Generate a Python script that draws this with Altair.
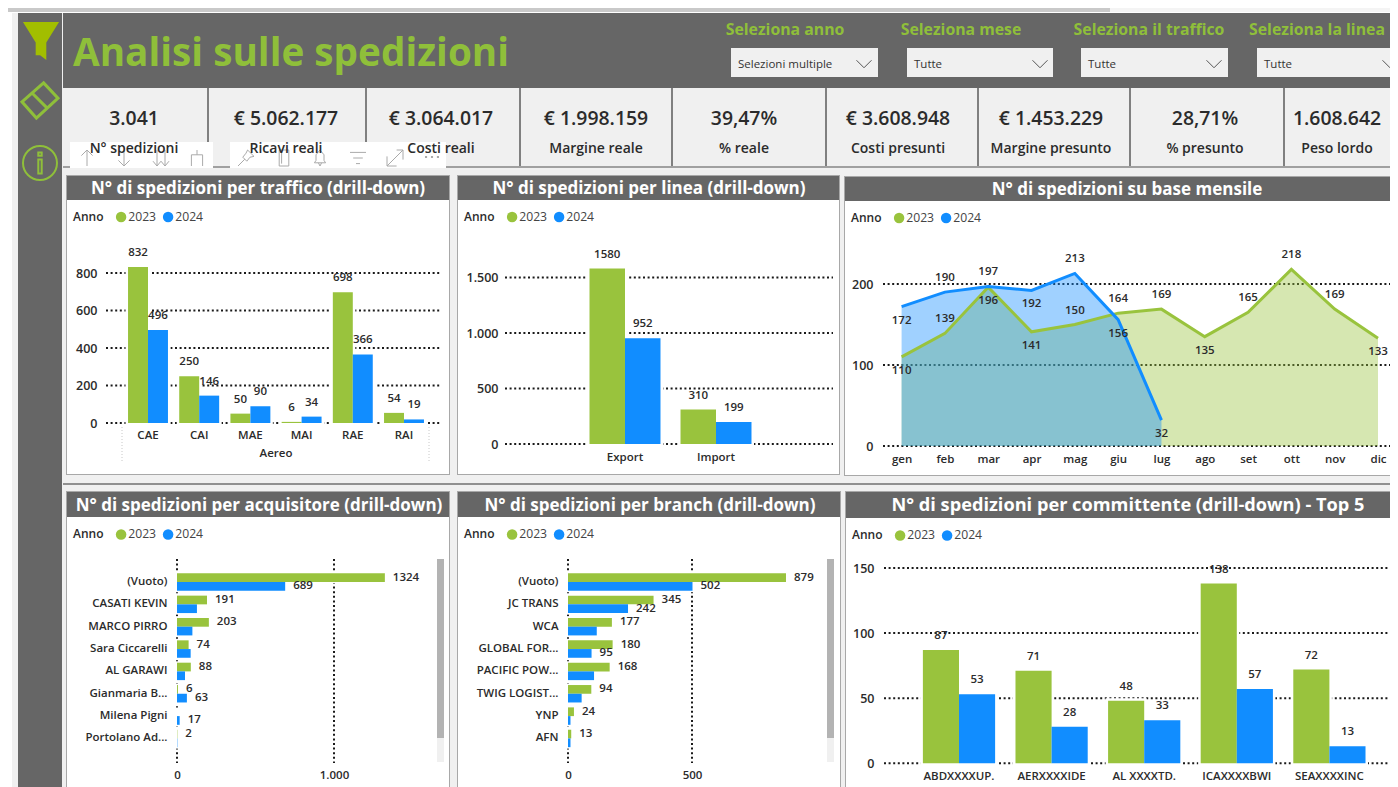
import altair as alt
import pandas as pd

# ---------- data ----------
ANNI = ["2023", "2024"]
COLORS = ["#99C33D", "#118DFF"]

traffico = ["CAE", "CAI", "MAE", "MAI", "RAE", "RAI"]
traffico_23 = [832, 250, 50, 6, 698, 54]
traffico_24 = [496, 146, 90, 34, 366, 19]

linea = ["Export", "Import"]
linea_23 = [1580, 310]
linea_24 = [952, 199]

mesi = ["gen", "feb", "mar", "apr", "mag", "giu", "lug", "ago", "set", "ott", "nov", "dic"]
mesi_23 = [110, 139, 196, 141, 150, 164, 169, 135, 165, 218, 169, 133]
mesi_24 = [172, 190, 197, 192, 213, 156, 32]
sotto_23 = ["gen", "mar", "apr", "ago", "dic"]
sotto_24 = ["gen", "apr", "giu", "lug"]

acquirenti = ["(Vuoto)", "CASATI KEVIN", "MARCO PIRRO", "Sara Ciccarelli", "AL GARAWI",
              "Gianmaria B...", "Milena Pigni", "Portolano Ad..."]
acq_23 = [1324, 191, 203, 74, 88, 6, 0, 2]
acq_24 = [689, 127, 98, 87, 51, 63, 17, 2]
acq_lab_23 = [1324, 191, 203, 74, 88, 6, None, 2]
acq_lab_24 = [689, None, None, None, None, 63, 17, None]

branch = ["(Vuoto)", "JC TRANS", "WCA", "GLOBAL FOR...", "PACIFIC POW...", "TWIG LOGIST...", "YNP", "AFN"]
branch_23 = [879, 345, 177, 180, 168, 94, 24, 13]
branch_24 = [502, 242, 116, 95, 105, 55, 10, 10]
branch_lab_23 = [879, 345, 177, 180, 168, 94, 24, 13]
branch_lab_24 = [502, 242, None, 95, None, None, None, None]

committenti = ["ABDXXXXUP.", "AERXXXXIDE", "AL XXXXTD.", "ICAXXXXBWI", "SEAXXXXINC"]
comm_23 = [87, 71, 48, 138, 72]
comm_24 = [53, 28, 33, 57, 13]

kpi_valori = ["3.041", "€ 5.062.177", "€ 3.064.017", "€ 1.998.159", "39,47%",
              "€ 3.608.948", "€ 1.453.229", "28,71%", "1.608.642"]
kpi_nomi = ["N° spedizioni", "Ricavi reali", "Costi reali", "Margine reale", "% reale",
            "Costi presunti", "Margine presunto", "% presunto", "Peso lordo"]
filtri = ["Seleziona anno", "Seleziona mese", "Seleziona il traffico", "Seleziona la linea"]
filtri_val = ["Selezioni multiple", "Tutte", "Tutte", "Tutte"]

# ---------- helpers ----------
W, H = 1382, 779
FONT = "Open Sans"
DARK = "#666666"
GREEN_T = "#8FBF3A"
TXT = "#2b2b2b"
ONE = alt.Data(values=[{"k": 1}])
ITA = "replace(format(datum.value, ','), ',', '.')"
DOT = dict(color="#1a1a1a", strokeWidth=2, strokeDash=[2, 2.6])


def px(v):
    return v - 8


def box(x0, y0, x1, y1, color):
    return alt.Chart(ONE).mark_rect(color=color).encode(
        x=alt.value(px(x0)), x2=alt.value(px(x1)), y=alt.value(px(y0)), y2=alt.value(px(y1)))


def txt(x, y, s, size=12, color=TXT, weight=400, align="center"):
    return alt.Chart(ONE).mark_text(text=s, font=FONT, fontSize=size, color=color, fontWeight=weight,
                                    align=align, baseline="middle").encode(
        x=alt.value(px(x)), y=alt.value(px(y)))


def icon(x, y, path, box_size, color, filled=False, sw=2):
    mk = dict(shape=path, size=box_size ** 2, filled=filled, opacity=1)
    if filled:
        mk["fill"] = color
        mk["strokeWidth"] = 0
    else:
        mk["stroke"] = color
        mk["strokeWidth"] = sw
        mk["fillOpacity"] = 0
    return alt.Chart(ONE).mark_point(**mk).encode(x=alt.value(px(x)), y=alt.value(px(y)))


def legend(x, y):
    return alt.Legend(orient="none", legendX=px(x), legendY=px(y), direction="horizontal",
                      titleOrient="left", title="Anno", titleFont=FONT, titleFontSize=12,
                      titleFontWeight=600, titleColor=TXT, labelFont=FONT, labelFontSize=12.2,
                      labelColor="#444444", symbolType="circle", symbolSize=110, symbolStrokeWidth=0,
                      symbolOpacity=1, columnPadding=5, labelOffset=1, titlePadding=11, padding=0)


def long(cats, cat_name, a, b, la=None, lb=None):
    la = la if la is not None else a
    lb = lb if lb is not None else b
    rows = []
    for c, v, l in zip(cats, a, la):
        rows.append({cat_name: c, "Anno": "2023", "v": v, "l": l})
    for c, v, l in zip(cats, b, lb):
        rows.append({cat_name: c, "Anno": "2024", "v": v, "l": l})
    return pd.DataFrame(rows)


def color_enc(leg):
    return alt.Color("Anno:N", scale=alt.Scale(domain=ANNI, range=COLORS), legend=leg)


def vbars(cats, a, b, ticks, dmax, y0, ytop, first, step, gx0, gx1, lab_x, xlab_pad, leg_xy):
    df = long(cats, "c", a, b)
    n = len(cats)
    xs = alt.Scale(domain=cats, range=[px(first - step / 2), px(first - step / 2 + n * step)],
                   paddingInner=0.22, paddingOuter=0.11)
    ys = alt.Scale(domain=[0, dmax], range=[px(y0), px(ytop)], nice=False)
    os = alt.Scale(domain=ANNI)
    xax = alt.Axis(orient="bottom", offset=px(y0) - H, domain=False, ticks=False, grid=False, labelAngle=0,
                   labelPadding=xlab_pad, labelFont=FONT, labelFontSize=11.5, labelFontWeight=600,
                   labelColor=TXT, title=None, zindex=1)
    yax = alt.Axis(orient="left", offset=-px(lab_x), domain=False, ticks=False, grid=False, values=ticks,
                   labelPadding=0, labelFont=FONT, labelFontSize=12.5, labelFontWeight=600,
                   labelColor=TXT, title=None, labelExpr=ITA, zindex=1)
    grid = alt.Chart(pd.DataFrame({"t": ticks})).mark_rule(**DOT).encode(
        y=alt.Y("t:Q", scale=ys, axis=yax), x=alt.value(px(gx0)), x2=alt.value(px(gx1)))
    halo = alt.Chart(df).mark_bar(color="#FFFFFF", stroke="#FFFFFF", strokeWidth=5).encode(
        x=alt.X("c:N", scale=xs, axis=xax, sort=cats),
        xOffset=alt.XOffset("Anno:N", scale=os),
        y=alt.Y("v:Q", scale=ys, axis=yax, stack=None))
    bars = alt.Chart(df).mark_bar().encode(
        x=alt.X("c:N", scale=xs, axis=xax, sort=cats),
        xOffset=alt.XOffset("Anno:N", scale=os),
        y=alt.Y("v:Q", scale=ys, axis=yax, stack=None),
        color=color_enc(legend(*leg_xy)))
    labs = alt.Chart(df).mark_text(font=FONT, fontSize=11.5, fontWeight=600, color=TXT, dy=-14).encode(
        x=alt.X("c:N", scale=xs, axis=xax, sort=cats),
        xOffset=alt.XOffset("Anno:N", scale=os),
        y=alt.Y("v:Q", scale=ys, axis=yax, stack=None),
        text=alt.Text("v:Q"))
    return alt.layer(grid, halo, bars, labs)


def hbars(cats, a, b, la, lb, ticks, x1v, x1px, x0px, lab_x, leg_xy, sb_x):
    df = long(cats, "c", a, b, la, lb)
    n = len(cats)
    first, step = 582.0, 22.35
    ys = alt.Scale(domain=cats, range=[px(first - step / 2), px(first - step / 2 + n * step)],
                   paddingInner=0.22, paddingOuter=0.11)
    xs = alt.Scale(domain=[0, x1v], range=[px(x0px), px(x1px)], nice=False)
    os = alt.Scale(domain=ANNI)
    yax = alt.Axis(orient="left", offset=-px(lab_x), domain=False, ticks=False, grid=False, labelPadding=0,
                   labelFont=FONT, labelFontSize=11.5, labelFontWeight=600, labelColor=TXT, title=None,
                   labelLimit=200, zindex=1)
    xax = alt.Axis(orient="bottom", offset=px(762) - H, domain=False, ticks=False, grid=False, values=ticks,
                   labelPadding=7, labelFont=FONT, labelFontSize=11.5, labelFontWeight=600, labelColor=TXT,
                   title=None, labelExpr=ITA, labelFlush=False, zindex=1)
    grid = alt.Chart(pd.DataFrame({"t": ticks})).mark_rule(**DOT).encode(
        x=alt.X("t:Q", scale=xs, axis=xax), y=alt.value(px(559)), y2=alt.value(px(763)))
    halo = alt.Chart(df).mark_bar(color="#FFFFFF", stroke="#FFFFFF", strokeWidth=3).encode(
        y=alt.Y("c:N", scale=ys, axis=yax, sort=cats),
        yOffset=alt.YOffset("Anno:N", scale=os),
        x=alt.X("v:Q", scale=xs, axis=xax, stack=None))
    bars = alt.Chart(df).mark_bar().encode(
        y=alt.Y("c:N", scale=ys, axis=yax, sort=cats),
        yOffset=alt.YOffset("Anno:N", scale=os),
        x=alt.X("v:Q", scale=xs, axis=xax, stack=None),
        color=color_enc(legend(*leg_xy)))
    labs = alt.Chart(df[df["l"].notna()]).mark_text(font=FONT, fontSize=11.5, fontWeight=600, color=TXT, align="left", dx=8).encode(
        y=alt.Y("c:N", scale=ys, axis=yax, sort=cats),
        yOffset=alt.YOffset("Anno:N", scale=os),
        x=alt.X("v:Q", scale=xs, axis=xax, stack=None),
        text=alt.Text("l:Q", format="d"))
    return alt.layer(grid, halo, bars, labs, box(sb_x, 738, sb_x + 7, 762, "#f0f0f0"), box(sb_x, 559, sb_x + 7, 738, "#b3b3b3"))


def months_panel():
    d23 = pd.DataFrame({"m": mesi, "Anno": "2023", "v": mesi_23, "z": 0})
    d24 = pd.DataFrame({"m": mesi[:7], "Anno": "2024", "v": mesi_24, "z": 0})
    d23["sotto"] = d23["m"].isin(sotto_23)
    d24["sotto"] = d24["m"].isin(sotto_24)
    df = pd.concat([d23, d24])
    xs = alt.Scale(type="point", domain=mesi, range=[px(901.6), px(1378)], padding=0)
    ys = alt.Scale(domain=[0, 200], range=[px(446), px(284)], nice=False)
    cs = alt.Scale(domain=ANNI, range=COLORS)
    xax = alt.Axis(orient="bottom", offset=px(446) - H, domain=False, ticks=False, grid=False, labelAngle=0,
                   labelPadding=7, labelFont=FONT, labelFontSize=11.5, labelFontWeight=600, labelColor=TXT,
                   title=None, zindex=1)
    yax = alt.Axis(orient="left", offset=-px(873), domain=False, ticks=False, grid=False, values=[0, 100, 200],
                   labelPadding=0, labelFont=FONT, labelFontSize=12.5, labelFontWeight=600, labelColor=TXT,
                   title=None, zindex=1)
    grid = alt.Chart(pd.DataFrame({"t": [0, 100, 200]})).mark_rule(**DOT).encode(
        y=alt.Y("t:Q", scale=ys, axis=yax), x=alt.value(px(883)), x2=alt.value(px(1398)))

    def base(d):
        return alt.Chart(d).encode(
            x=alt.X("m:N", scale=xs, axis=xax, sort=mesi),
            y=alt.Y("v:Q", scale=ys, axis=yax, stack=None))

    a1 = alt.Chart(d23).mark_area(opacity=0.4).encode(
        x=alt.X("m:N", scale=xs, axis=xax, sort=mesi),
        y=alt.Y("v:Q", scale=ys, axis=yax, stack=None),
        y2=alt.Y2("z:Q"),
        color=alt.Color("Anno:N", scale=cs, legend=legend(851, 211.5)))
    a2 = base(d24).mark_area(opacity=0.4, color=COLORS[1]).encode(y2=alt.Y2("z:Q"))
    l1 = base(d23).mark_line(strokeWidth=3, color=COLORS[0])
    l2 = base(d24).mark_line(strokeWidth=3, color=COLORS[1])
    up = base(df[~df["sotto"]]).mark_text(font=FONT, fontSize=11.5, fontWeight=600, color=TXT, dy=-14).encode(text="v:Q")
    dn = base(df[df["sotto"]]).mark_text(font=FONT, fontSize=11.5, fontWeight=600, color=TXT, dy=14).encode(text="v:Q")
    return alt.layer(grid, a1, a2, l1, l2, up, dn)


# ---------- chrome ----------
chrome = [box(12, 13, 1398, 800, "#F0F0F0"), box(8, 8, 1110, 12, "#C9C9C9"), box(1110, 8, 1398, 12, "#F4F4F4")]
chrome += [box(18, 13, 62, 800, DARK), box(63, 13, 1398, 88, DARK)]

FUNNEL = "M-0.95,-1 L0.95,-1 L0.28,0.08 L0.28,1 L-0.05,0.75 L-0.28,0.75 L-0.28,0.08 Z"
ERASER = "M0.2,-0.95 L1,-0.1 L-0.2,1 L-1,0.1 Z M-0.4,-0.35 L0.4,0.45"
INFO = "M-1,0 A1,1 0 1,1 1,0 A1,1 0 1,1 -1,0 Z M-0.1,-0.2 L0.1,-0.2 L0.1,0.62 L-0.1,0.62 Z M-0.1,-0.62 L0.1,-0.62 L0.1,-0.42 L-0.1,-0.42 Z"
CHEV = "M-1,-0.5 L0,0.5 L1,-0.5"
chrome += [icon(41, 41, FUNNEL, 38, "#A2BE00", filled=True),
           icon(40, 100, ERASER, 36, "#8FBF3A", sw=3),
           icon(40, 163, INFO, 34, "#8FBF3A", sw=2)]

chrome.append(txt(73, 54, "Analisi sulle spedizioni", size=38.7, color=GREEN_T, weight=700, align="left"))

for cx, s in zip([785, 961, 1149, 1317], filtri):
    chrome.append(txt(cx, 30, s, size=15.8, color=GREEN_T, weight=700))
for x0, x1, s in zip([731, 907, 1081, 1257], [878, 1053, 1228, 1410], filtri_val):
    chrome.append(box(x0, 48, x1, 77, "#F0F0F0"))
    chrome.append(txt(x0 + 7, 65, s, size=11.5, color="#333333", align="left"))
    chrome.append(icon(x0 + 133, 64, CHEV, 15, "#555555", sw=1))

# KPI cards
for sx in [208, 366, 520, 672, 826, 978, 1130, 1284]:
    chrome.append(box(sx - 1, 88, sx + 1, 167, "#808080"))
chrome.append(box(63, 166, 1398, 168, "#A0A0A0"))

# toolbar overlay
chrome += [box(70, 142, 213, 168, "#FFFFFF"), box(230, 142, 446, 168, "#FFFFFF")]
UP = "M0,-1 L0,1 M-0.7,-0.3 L0,-1 L0.7,-0.3"
DOWN = "M0,-1 L0,1 M-0.7,0.3 L0,1 L0.7,0.3"
DDOWN = "M-0.5,-1 L-0.5,1 M-1,0.4 L-0.5,1 L0,0.4 M0.5,-1 L0.5,1 M0,0.4 L0.5,1 L1,0.4"
FORK = "M0,-1 L0,-0.4 M-0.7,1 L-0.7,-0.4 L0.7,-0.4 L0.7,1"
PIN = "M0.2,-1 L1,-0.2 L0.5,-0.1 L0.1,0.4 L-0.4,-0.1 L0,-0.6 Z M-0.15,0.15 L-1,1"
COPY = "M-0.6,-1 L0.6,-1 L0.6,1 L-0.6,1 Z M-0.3,-1 L-0.3,0.7"
BELL = "M-0.7,0.6 L-0.5,0.3 L-0.5,-0.4 L0,-1 L0.5,-0.4 L0.5,0.3 L0.7,0.6 Z M-0.2,0.6 L0,1 L0.2,0.6"
FILT = "M-1,-0.7 L1,-0.7 M-0.6,0 L0.6,0 M-0.25,0.7 L0.25,0.7"
EXPAND = "M-1,-0.2 L-1,1 L0.2,1 M-1,1 L0,0 M0.2,-1 L1,-1 L1,0.2 M1,-1 L0,0"
MORE = "M-1,-0.15 L-0.7,-0.15 L-0.7,0.15 L-1,0.15 Z M-0.15,-0.15 L0.15,-0.15 L0.15,0.15 L-0.15,0.15 Z M0.7,-0.15 L1,-0.15 L1,0.15 L0.7,0.15 Z"
for tx, p in zip([87, 124, 161, 197, 246, 284, 320, 358, 395], [UP, DOWN, DDOWN, FORK, PIN, COPY, BELL, FILT, EXPAND]):
    chrome.append(icon(tx, 158, p, 16, "#AAAAAA", sw=1))
chrome.append(icon(432, 157, MORE, 14, "#AAAAAA", filled=True))

for cx, v, n in zip([134, 286, 441, 596, 744, 898, 1051, 1205, 1337], kpi_valori, kpi_nomi):
    chrome.append(txt(cx, 119, v, size=19.4, color=TXT, weight=600))
    chrome.append(txt(cx, 149, n, size=14, color=TXT, weight=600))

# panels
panels = [(67, 449, 176, 200, 474, 258, 17, "N° di spedizioni per traffico (drill-down)"),
          (458, 839, 176, 200, 474, 649, 17, "N° di spedizioni per linea (drill-down)"),
          (845, 1398, 177, 201, 475, 1127, 17, "N° di spedizioni su base mensile"),
          (67, 449, 492, 517, 800, 259, 17, "N° di spedizioni per acquisitore (drill-down)"),
          (458, 840, 492, 517, 800, 650, 17, "N° di spedizioni per branch (drill-down)"),
          (846, 1398, 492, 518, 800, 1128, 18.2, "N° di spedizioni per committente (drill-down) - Top 5")]
for x0, x1, y0, y1, y2, cx, fs, t in panels:
    chrome.append(box(x0 - 1, y0 - 1, x1 + 1, y2 + 1, "#A8A8A8"))
    chrome.append(box(x0, y1, x1, y2, "#FFFFFF"))
    chrome.append(box(x0, y0, x1, y1, DARK))
    chrome.append(txt(cx, (y0 + y1) / 2 + 1, t, size=fs, color="#FFFFFF", weight=700))
chrome.append(box(63, 483, 1398, 485, "#909090"))

# Aereo group label
chrome += [txt(276, 454, "Aereo", size=11.5, weight=600)]
for gx in [122, 429]:
    chrome.append(alt.Chart(ONE).mark_rule(color="#C8C8C8", strokeDash=[1, 2]).encode(
        x=alt.value(px(gx)), y=alt.value(px(427)), y2=alt.value(px(463))))

# ---------- data panels ----------
p1 = vbars(traffico, traffico_23, traffico_24, [0, 200, 400, 600, 800], 800, 423, 273,
           148, 51.2, 106, 441, 97, 6, (73, 210.5))
p2 = vbars(linea, linea_23, linea_24, [0, 500, 1000, 1500], 1500, 444, 277.5,
           625, 91, 505, 833, 498, 7, (464, 210.5))
p3 = months_panel()
p4 = hbars(acquirenti, acq_23, acq_24, acq_lab_23, acq_lab_24, [0, 1000], 1000, 334, 177, 167, (73, 528), 437)
p5 = hbars(branch, branch_23, branch_24, branch_lab_23, branch_lab_24, [0, 500], 500, 692, 568, 558, (464, 528), 827)
p6 = vbars(committenti, comm_23, comm_24, [0, 50, 100, 150], 150, 763.3, 568,
           959, 92.6, 884, 1398, 874, 7, (852, 529))

chart = alt.layer(*chrome, p1, p2, p3, p4, p5, p6).resolve_scale(
    x="independent", y="independent", color="independent", xOffset="independent", yOffset="independent"
).properties(
    width=W, height=H, padding=0, autosize=alt.AutoSizeParams(type="none"), background="white"
).configure_view(stroke=None)

chart.save("out.html", embed_options={"renderer": "svg", "actions": False})
